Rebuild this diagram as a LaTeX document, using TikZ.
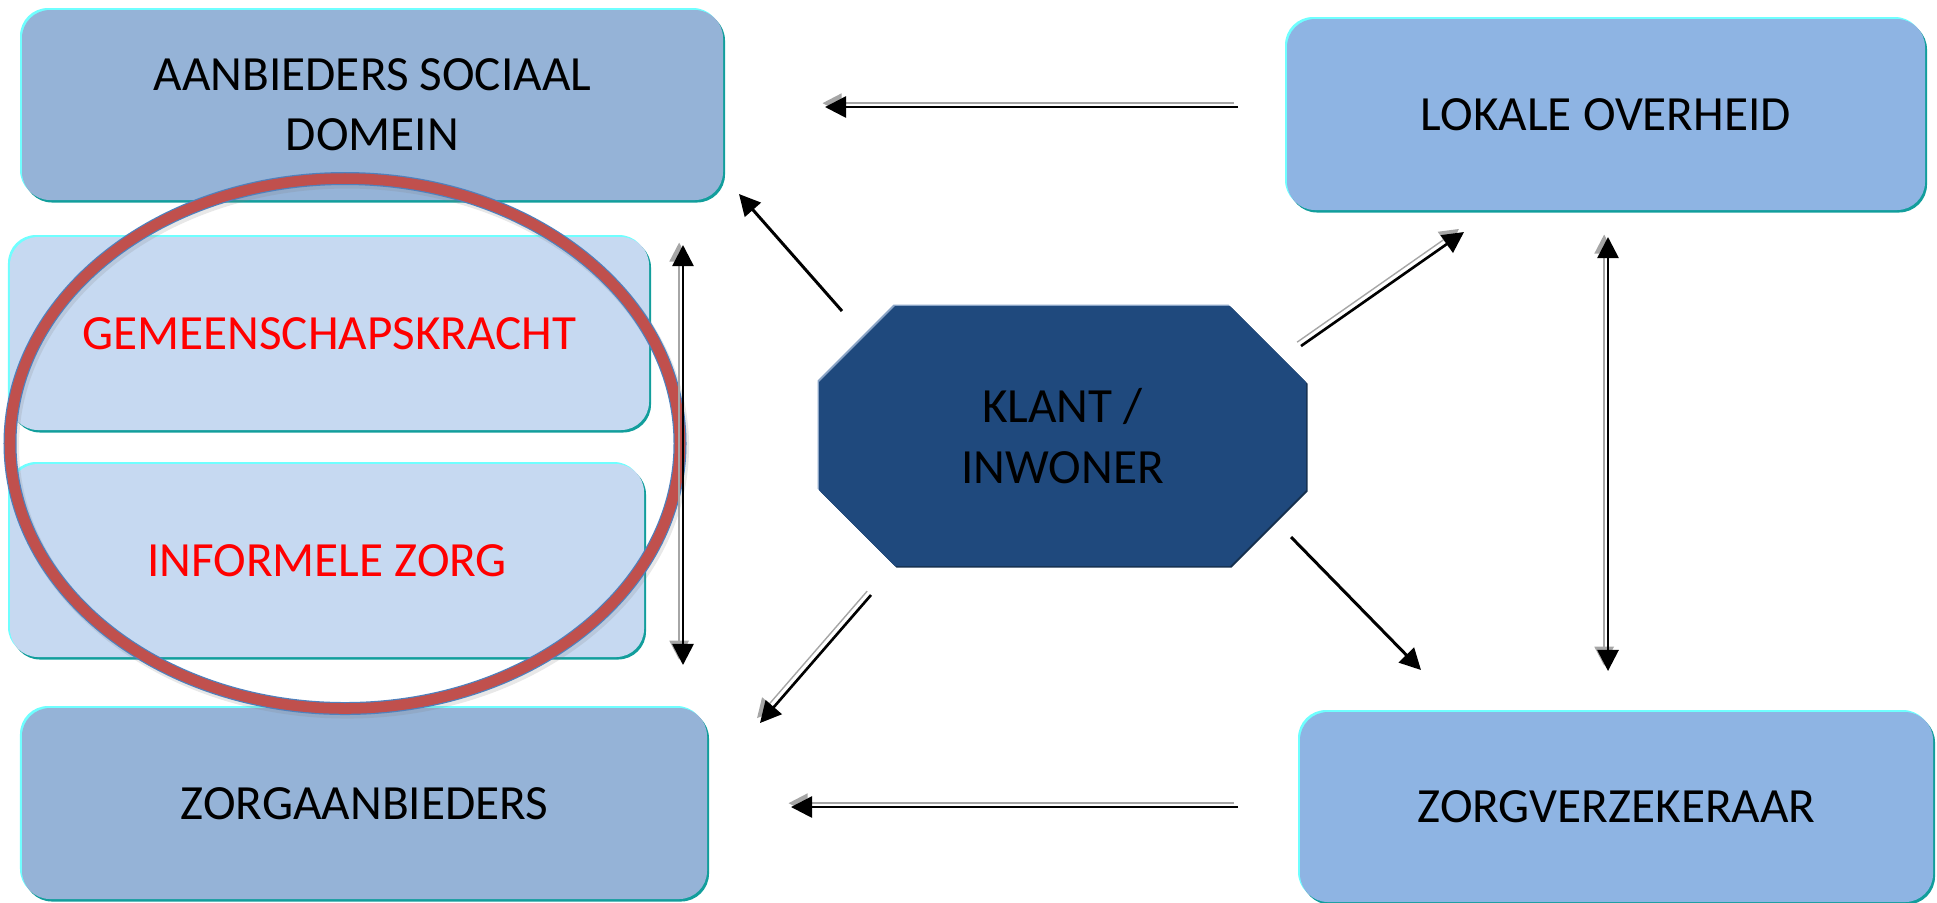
\documentclass[tikz,border=0pt]{standalone}
\usepackage{fontspec}
\setmainfont{Carlito}
\usetikzlibrary{positioning,arrows.meta,shadows}

\definecolor{boxdark}{HTML}{95B3D7}
\definecolor{boxmid}{HTML}{8EB4E3}
\definecolor{boxlight}{HTML}{C6D9F1}
\definecolor{rimteal}{HTML}{129E9C}
\definecolor{rimcyan}{HTML}{6FFFFF}
\definecolor{klantblue}{HTML}{1F497D}
\definecolor{octlight}{HTML}{8AA4C6}
\definecolor{octdark}{HTML}{15304F}
\definecolor{ringred}{HTML}{C0504D}
\definecolor{ringblue}{HTML}{4F81BD}
\definecolor{zorgred}{HTML}{FF0000}

\begin{document}
\begin{tikzpicture}[
  box/.style={rounded corners=0.28cm, inner sep=0pt, align=center,
    font=\fontsize{14pt}{17pt}\selectfont,
    general shadow={fill=rimcyan, shadow xshift=-0.02cm, shadow yshift=0.02cm},
    general shadow={fill=rimteal, shadow xshift=0.02cm, shadow yshift=-0.025cm}},
  pipe/.style={line width=0.75pt,
    preaction={draw=gray!70, transform canvas={xshift=-1.1pt,yshift=1.1pt}}},
  wire/.style={line width=0.85pt},
  tip/.style={-{Triangle[length=6pt,width=6pt]}},
  tips/.style={{Triangle[length=6pt,width=6pt]}-{Triangle[length=6pt,width=6pt]}}
]
\useasboundingbox (0,0) rectangle (19.37,-9.02);

% left column
\node[box, fill=boxdark, minimum width=7.01cm, minimum height=1.90cm] (aanb) at (3.725,-1.05) {AANBIEDERS SOCIAAL\\DOMEIN};
\node[box, fill=boxlight, text=zorgred, minimum width=6.39cm, minimum height=1.93cm] (gem) at (3.295,-3.335) {GEMEENSCHAPSKRACHT};
\node[box, fill=boxlight, text=zorgred, minimum width=6.34cm, minimum height=1.93cm] (inf) at (3.27,-5.605) {INFORMELE ZORG};
\node[box, fill=boxdark, minimum width=6.85cm, minimum height=1.91cm] (zaan) at (3.645,-8.035) {ZORGAANBIEDERS};

% right column
\node[box, fill=boxmid, minimum width=6.38cm, minimum height=1.91cm] (lok) at (16.06,-1.145) {LOKALE OVERHEID};
\node[box, fill=boxmid, minimum width=6.33cm, minimum height=1.90cm] (zvz) at (16.165,-8.07) {ZORGVERZEKERAAR};

% klant in het midden
\foreach \dx/\dy/\col in {-0.015/0.015/octlight, 0.015/-0.015/octdark, 0/0/klantblue}
  \fill[\col, shift={(\dx,\dy)}] (8.95,-3.06) -- (12.30,-3.06) -- (13.06,-3.82) -- (13.06,-4.90)
    -- (12.30,-5.66) -- (8.95,-5.66) -- (8.19,-4.90) -- (8.19,-3.82) -- cycle;
\node[align=center, font=\fontsize{14pt}{17.4pt}\selectfont] (kl) at (10.625,-4.36) {KLANT /\\INWONER};

% ring om de informele kant
\draw[gray, opacity=0.18, line width=4pt] (3.47,-4.465) ellipse (3.35 and 2.65);
\draw[draw=ringblue, double=ringred, line width=0.35pt, double distance=3pt] (3.45,-4.435) ellipse (3.35 and 2.65);

% eindpunten van de pijlen
\coordinate (lok-out) at (12.38,-1.07);
\coordinate (aanb-in) at (8.25,-1.07);
\coordinate (zvz-out) at (12.38,-8.07);
\coordinate (zaan-in) at (7.91,-8.07);
\coordinate (links-top) at (6.83,-2.45);
\coordinate (links-bot) at (6.83,-6.65);
\coordinate (rechts-top) at (16.08,-2.37);
\coordinate (rechts-bot) at (16.08,-6.71);
\coordinate (kl-nw) at (8.42,-3.11);
\coordinate (aanb-se) at (7.39,-1.94);
\coordinate (kl-ne) at (13.01,-3.46);
\coordinate (lok-sw) at (14.64,-2.32);
\coordinate (kl-sw) at (8.71,-5.95);
\coordinate (zaan-ne) at (7.60,-7.23);
\coordinate (kl-se) at (12.91,-5.37);
\coordinate (zvz-nw) at (14.21,-6.70);

% pijlen
\draw[pipe, tip] (lok-out) -- (aanb-in);
\draw[pipe, tip] (zvz-out) -- (zaan-in);
\draw[pipe, tips] (links-top) -- (links-bot);
\draw[pipe, tips] (rechts-top) -- (rechts-bot);
\draw[pipe, tip] (kl-ne) -- (lok-sw);
\draw[pipe, tip] (kl-sw) -- (zaan-ne);
\draw[wire, tip] (kl-nw) -- (aanb-se);
\draw[wire, tip] (kl-se) -- (zvz-nw);
\end{tikzpicture}
\end{document}
